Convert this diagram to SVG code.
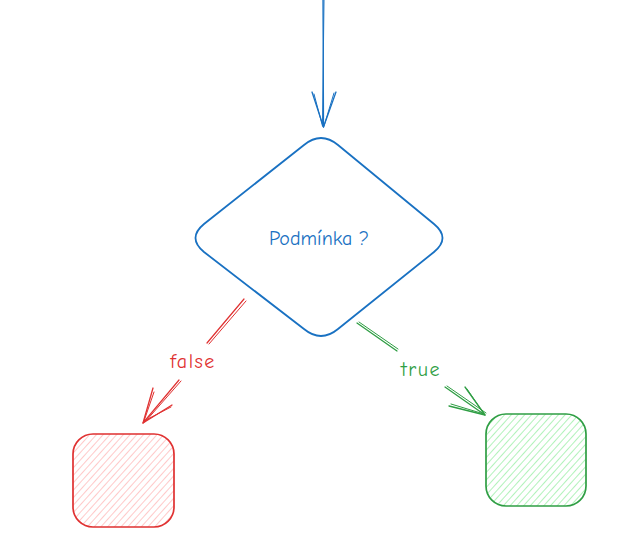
<svg xmlns="http://www.w3.org/2000/svg" width="628" height="553" viewBox="0 0 628 553">
<style>
.txt{font-family:"Comic Neue","Liberation Sans",sans-serif;font-size:20px;text-anchor:middle;dominant-baseline:central}
.lbl{letter-spacing:1.5px}
.sk{fill:none;stroke-linecap:round;stroke-linejoin:round}
.blue{stroke:#1971c2}
.red{stroke:#e03131}
.green{stroke:#2f9e44}
</style>
<defs>
<pattern id="hatchRed" patternUnits="userSpaceOnUse" width="5" height="5" patternTransform="rotate(-48)">
<line x1="0" y1="2.5" x2="5" y2="2.5" stroke="#ffc9c9" stroke-width="1"/>
</pattern>
<pattern id="hatchGreen" patternUnits="userSpaceOnUse" width="5" height="5" patternTransform="rotate(-48)">
<line x1="0" y1="2.5" x2="5" y2="2.5" stroke="#b2f2bb" stroke-width="1"/>
</pattern>
</defs>
<rect width="628" height="553" fill="#ffffff"/>
<g id="connectors">
<g id="arrow-in">
<path class="sk blue" stroke-width="1.3" d="M323,0 L323.5,127"/>
<path class="sk blue" stroke-width="1" d="M324,0 L322.5,126"/>
<path class="sk blue" stroke-width="1.3" d="M312,92 L323.5,127 M336,92 L323.5,127"/>
<path class="sk blue" stroke-width="1" d="M314,94 L322.5,126 M334,93 L324,126"/>
</g>
<g id="arrow-false">
<path class="sk red" stroke-width="1.2" d="M244,299 L207,343 M179,380 L143,423"/>
<path class="sk red" stroke-width="1" d="M246,301 L209,344 M181,381 L145,422"/>
<path class="sk red" stroke-width="1.3" d="M153,388 L143,423 L172,405"/>
<path class="sk red" stroke-width="1" d="M154,392 L144,421 L171,407"/>
<text class="txt lbl" x="193" y="361" fill="#e03131">false</text>
</g>
<g id="arrow-true">
<path class="sk green" stroke-width="1.3" d="M357,323 L397,351 M445,387 L485,415"/>
<path class="sk green" stroke-width="1" d="M359,322 L398,349 M447,386 L486,413"/>
<path class="sk green" stroke-width="1.3" d="M449,406 L485,415 L465,387"/>
<path class="sk green" stroke-width="1" d="M451,404 L484,414 L467,389"/>
<text class="txt lbl" x="421" y="369" fill="#2f9e44">true</text>
</g>
</g>
<g id="decision">
<path class="sk blue" stroke-width="1.8" d="M304,145 Q321,131 338,145 L434,224 Q451,238 434,252 L338,329 Q321,343 304,329 L204,252 Q187,238 204,224 Z"/>
<text class="txt" x="319" y="238" fill="#1971c2">Podmínka ?</text>
</g>
<g id="false-box">
<rect x="73" y="434" width="101" height="93" rx="20" fill="url(#hatchRed)"/>
<rect class="sk red" x="73" y="434" width="101" height="93" rx="20" stroke-width="1.7"/>
</g>
<g id="true-box">
<rect x="486" y="414" width="100" height="92" rx="20" fill="url(#hatchGreen)"/>
<rect class="sk green" x="486" y="414" width="100" height="92" rx="20" stroke-width="1.7"/>
</g>
</svg>
